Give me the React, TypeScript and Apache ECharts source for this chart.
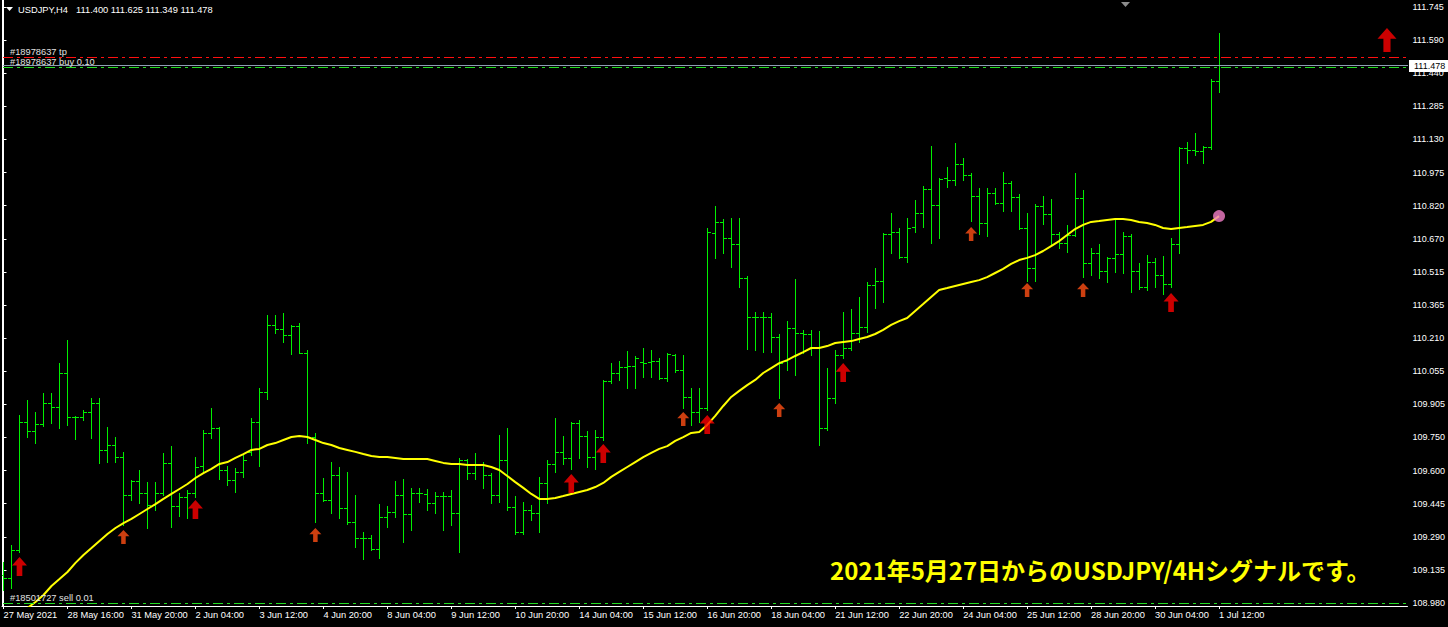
import React, { useEffect, useRef } from 'react';
import * as echarts from 'echarts';

const SYMBOL = 'USDJPY';
const PERIOD = 'H4';

const xTickLabels = ['27 May 2021', '28 May 16:00', '31 May 20:00', '2 Jun 04:00', '3 Jun 12:00', '4 Jun 20:00', '8 Jun 04:00', '9 Jun 12:00', '10 Jun 20:00', '14 Jun 04:00', '15 Jun 12:00', '16 Jun 20:00', '18 Jun 04:00', '21 Jun 12:00', '22 Jun 20:00', '24 Jun 04:00', '25 Jun 12:00', '28 Jun 20:00', '30 Jun 04:00', '1 Jul 12:00'];
const BARS_PER_X_LABEL = 8;

const yTickLabels = ['108.980', '109.135', '109.290', '109.445', '109.600', '109.750', '109.905', '110.055', '110.210', '110.365', '110.515', '110.670', '110.820', '110.975', '111.130', '111.285', '111.440', '111.590', '111.745'];

const opens = [109.110, 109.096, 109.226, 109.820, 109.778, 109.811, 109.908, 109.889, 110.047, 109.843,
  109.843, 109.866, 109.908, 109.690, 109.713, 109.657, 109.481, 109.546, 109.490, 109.435,
  109.490, 109.630, 109.430, 109.472, 109.490, 109.616, 109.769, 109.792, 109.597, 109.551,
  109.588, 109.681, 109.820, 109.959, 110.270, 110.251, 110.223, 110.265, 110.140, 109.750,
  109.490, 109.458, 109.574, 109.421, 109.356, 109.282, 109.282, 109.231, 109.379, 109.402,
  109.481, 109.393, 109.490, 109.486, 109.444, 109.476, 109.476, 109.398, 109.643, 109.583,
  109.625, 109.574, 109.481, 109.643, 109.425, 109.309, 109.412, 109.398, 109.537, 109.625,
  109.681, 109.653, 109.815, 109.755, 109.657, 109.750, 110.010, 110.047, 110.075, 110.080,
  110.098, 110.098, 110.103, 110.024, 110.131, 110.061, 109.936, 109.866, 109.885, 110.697,
  110.748, 110.673, 110.646, 110.488, 110.307, 110.307, 110.307, 110.214, 110.103, 110.256,
  110.233, 110.228, 110.168, 109.792, 109.931, 110.131, 110.163, 110.233, 110.260, 110.455,
  110.474, 110.692, 110.701, 110.585, 110.724, 110.789, 110.901, 110.826, 110.952, 110.943,
  111.017, 110.966, 110.868, 110.743, 110.882, 110.836, 110.929, 110.864, 110.720, 110.534,
  110.822, 110.785, 110.692, 110.650, 110.687, 110.859, 110.557, 110.604, 110.520, 110.581,
  110.599, 110.683, 110.520, 110.446, 110.562, 110.502, 110.460, 110.646, 111.091, 111.082,
  111.077, 111.096, 111.400];

const highs = [109.170, 109.249, 109.852, 109.922, 109.866, 109.954, 109.954, 110.093, 110.200, 109.848,
  109.875, 109.931, 109.931, 109.797, 109.750, 109.681, 109.551, 109.597, 109.541, 109.541,
  109.676, 109.708, 109.490, 109.504, 109.657, 109.783, 109.885, 109.797, 109.616, 109.606,
  109.671, 109.838, 109.977, 110.316, 110.316, 110.325, 110.270, 110.279, 110.154, 109.769,
  109.560, 109.634, 109.611, 109.588, 109.481, 109.309, 109.296, 109.439, 109.430, 109.546,
  109.555, 109.514, 109.514, 109.509, 109.495, 109.495, 109.504, 109.653, 109.648, 109.676,
  109.634, 109.583, 109.759, 109.792, 109.476, 109.449, 109.435, 109.565, 109.643, 109.838,
  109.755, 109.820, 109.829, 109.778, 109.783, 110.015, 110.093, 110.103, 110.149, 110.126,
  110.163, 110.154, 110.117, 110.140, 110.135, 110.131, 109.977, 109.977, 110.720, 110.822,
  110.761, 110.766, 110.766, 110.497, 110.330, 110.330, 110.325, 110.228, 110.288, 110.483,
  110.247, 110.247, 110.242, 110.070, 110.154, 110.330, 110.344, 110.400, 110.469, 110.534,
  110.697, 110.789, 110.720, 110.766, 110.850, 110.915, 111.100, 110.952, 111.003, 111.114,
  111.045, 110.975, 110.905, 110.905, 110.905, 110.980, 110.938, 110.878, 110.789, 110.831,
  110.868, 110.854, 110.701, 110.734, 110.975, 110.896, 110.627, 110.646, 110.585, 110.757,
  110.701, 110.692, 110.557, 110.594, 110.581, 110.590, 110.673, 111.096, 111.119, 111.161,
  111.100, 111.411, 111.625];

const lows = [109.040, 109.050, 109.217, 109.750, 109.722, 109.801, 109.815, 109.792, 109.806, 109.741,
  109.829, 109.746, 109.630, 109.634, 109.634, 109.342, 109.458, 109.444, 109.328, 109.412,
  109.481, 109.333, 109.384, 109.374, 109.472, 109.583, 109.746, 109.555, 109.528, 109.495,
  109.565, 109.667, 109.616, 109.926, 110.233, 110.191, 110.135, 110.140, 109.722, 109.356,
  109.453, 109.398, 109.374, 109.347, 109.240, 109.184, 109.226, 109.189, 109.333, 109.379,
  109.263, 109.319, 109.449, 109.412, 109.398, 109.319, 109.342, 109.217, 109.555, 109.555,
  109.514, 109.444, 109.449, 109.412, 109.300, 109.300, 109.365, 109.309, 109.444, 109.588,
  109.625, 109.602, 109.653, 109.611, 109.602, 109.736, 110.001, 110.015, 109.977, 109.977,
  110.029, 110.029, 110.019, 110.010, 110.052, 109.885, 109.806, 109.820, 109.875, 110.581,
  110.604, 110.539, 110.446, 110.158, 110.154, 110.144, 110.144, 109.931, 110.061, 110.038,
  110.140, 110.131, 109.713, 109.783, 109.908, 110.117, 110.154, 110.191, 110.237, 110.349,
  110.376, 110.604, 110.581, 110.562, 110.701, 110.724, 110.650, 110.673, 110.910, 110.919,
  110.943, 110.752, 110.692, 110.683, 110.831, 110.799, 110.799, 110.715, 110.474, 110.474,
  110.738, 110.641, 110.627, 110.608, 110.683, 110.492, 110.502, 110.488, 110.469, 110.516,
  110.511, 110.423, 110.437, 110.432, 110.446, 110.414, 110.446, 110.604, 111.021, 111.058,
  111.021, 111.088, 111.349];

const closes = [109.096, 109.226, 109.820, 109.778, 109.811, 109.908, 109.889, 110.047, 109.843, 109.843,
  109.866, 109.908, 109.690, 109.713, 109.657, 109.481, 109.546, 109.490, 109.435, 109.490,
  109.630, 109.430, 109.472, 109.490, 109.611, 109.769, 109.792, 109.597, 109.551, 109.588,
  109.643, 109.820, 109.959, 110.270, 110.251, 110.223, 110.265, 110.140, 109.750, 109.490,
  109.458, 109.574, 109.421, 109.356, 109.282, 109.282, 109.231, 109.379, 109.402, 109.481,
  109.393, 109.490, 109.490, 109.444, 109.476, 109.476, 109.398, 109.643, 109.583, 109.625,
  109.574, 109.481, 109.643, 109.425, 109.309, 109.412, 109.398, 109.537, 109.625, 109.681,
  109.653, 109.815, 109.755, 109.657, 109.750, 110.010, 110.047, 110.075, 110.080, 110.117,
  110.093, 110.103, 110.024, 110.135, 110.061, 109.936, 109.866, 109.885, 110.701, 110.748,
  110.673, 110.646, 110.488, 110.307, 110.307, 110.307, 110.214, 110.093, 110.256, 110.233,
  110.228, 110.168, 109.792, 109.931, 110.131, 110.163, 110.233, 110.260, 110.455, 110.474,
  110.692, 110.701, 110.585, 110.720, 110.789, 110.901, 110.826, 110.947, 110.943, 111.017,
  110.966, 110.868, 110.743, 110.882, 110.836, 110.929, 110.864, 110.720, 110.534, 110.822,
  110.785, 110.692, 110.650, 110.687, 110.859, 110.557, 110.604, 110.520, 110.581, 110.599,
  110.683, 110.520, 110.446, 110.562, 110.502, 110.460, 110.646, 111.091, 111.082, 111.077,
  111.096, 111.400, 111.478];

const movingAverage = [108.855, 108.887, 108.920, 108.957, 108.985, 109.017, 109.059, 109.091, 109.124, 109.166,
  109.203, 109.235, 109.268, 109.300, 109.328, 109.351, 109.370, 109.393, 109.416, 109.439,
  109.463, 109.486, 109.509, 109.532, 109.560, 109.583, 109.602, 109.625, 109.634, 109.653,
  109.671, 109.690, 109.695, 109.713, 109.722, 109.736, 109.750, 109.755, 109.750, 109.736,
  109.722, 109.713, 109.699, 109.690, 109.681, 109.671, 109.662, 109.657, 109.657, 109.653,
  109.648, 109.648, 109.648, 109.648, 109.639, 109.630, 109.625, 109.625, 109.620, 109.620,
  109.620, 109.611, 109.597, 109.569, 109.541, 109.514, 109.486, 109.463, 109.463, 109.467,
  109.476, 109.486, 109.495, 109.504, 109.518, 109.537, 109.565, 109.588, 109.611, 109.634,
  109.657, 109.676, 109.695, 109.708, 109.732, 109.750, 109.769, 109.773, 109.806, 109.848,
  109.894, 109.936, 109.964, 109.991, 110.015, 110.047, 110.070, 110.093, 110.107, 110.126,
  110.144, 110.163, 110.163, 110.172, 110.186, 110.191, 110.195, 110.205, 110.214, 110.228,
  110.247, 110.270, 110.288, 110.302, 110.335, 110.367, 110.400, 110.432, 110.441, 110.451,
  110.460, 110.469, 110.478, 110.492, 110.511, 110.530, 110.553, 110.571, 110.581, 110.594,
  110.613, 110.636, 110.659, 110.687, 110.715, 110.734, 110.748, 110.752, 110.757, 110.761,
  110.761, 110.757, 110.748, 110.743, 110.734, 110.720, 110.715, 110.720, 110.724, 110.729,
  110.734, 110.748, 110.775];

// Signal arrows: bar index and price at the arrow tip
const bigArrowIndex = [2, 24, 71, 75, 88, 105, 146];
const bigArrowPrice = [109.194, 109.458, 109.579, 109.718, 109.852, 110.093, 110.418];
const smallArrowIndex = [15, 39, 85, 97, 121, 128, 135];
const smallArrowPrice = [109.319, 109.328, 109.866, 109.908, 110.724, 110.465, 110.465];
const futureArrowIndex = [173];
const futureArrowPrice = [111.648];

// Trade levels
const levelNames = ['#18978637 tp', '#18978637 buy 0.10', '#18501727 sell 0.01'];
const levelPrices = [111.514, 111.467, 108.979];
const levelColors = ['#ff1010', '#22dd22', '#22dd22'];

const ANNOTATION = '2021年5月27日からのUSDJPY/4Hシグナルです。';

// Layout
const W = 1448;
const H = 627;
const GRID_LEFT = 2;
const GRID_RIGHT_EDGE = 1408;
const GRID_TOP = 0;
const GRID_BOTTOM_EDGE = 606;
const BAR_PX = 8;
const X_MIN = -0.1875;
const X_MAX = X_MIN + (GRID_RIGHT_EDGE - GRID_LEFT) / BAR_PX;
const Y_MAX = 111.7775;
const Y_MIN = 108.9661;

const FONT = '"Liberation Sans", Arial, sans-serif';
const BAR_COLOR = '#00f000';
const ARROW_PATH = 'path://M8 0L16 9L11 9L11 20L5 20L5 9L0 9Z';

const yFirst = parseFloat(yTickLabels[0]);
const yLast = parseFloat(yTickLabels[yTickLabels.length - 1]);
const yStep = (yLast - yFirst) / (yTickLabels.length - 1);
const yTickValues = yTickLabels.map((_, k) => yFirst + k * yStep);
const xTickValues = xTickLabels.map((_, k) => k * BARS_PER_X_LABEL);

const barData = opens.map((o, i) => [i, o, highs[i], lows[i], closes[i]]);
const maData = movingAverage.map((v, i) => [i, v]);
const lastIdx = closes.length - 1;

// dash-dot segments along a horizontal line
function dashDot(y: number, x0: number, x1: number, color: string, z: number) {
  const out: any[] = [];
  const pattern = [10, 4, 3, 4];
  let x = x0;
  let k = 0;
  while (x < x1) {
    const len = pattern[k % 4];
    if (k % 2 === 0) {
      out.push({ type: 'rect', shape: { x, y, width: Math.min(len, x1 - x), height: 1 }, style: { fill: color }, z, silent: true });
    }
    x += len;
    k++;
  }
  return out;
}

export default function App() {
  const ref = useRef<HTMLDivElement>(null);
  useEffect(() => {
    const chart = echarts.init(ref.current as HTMLDivElement, null, { renderer: 'svg' });
    const option: any = {
      animation: false,
      backgroundColor: '#000000',
      grid: { left: GRID_LEFT, right: W - GRID_RIGHT_EDGE, top: GRID_TOP, bottom: H - GRID_BOTTOM_EDGE, containLabel: false },
      xAxis: {
        type: 'value',
        min: X_MIN,
        max: X_MAX,
        position: 'bottom',
        axisLine: { show: true, lineStyle: { color: '#ffffff', width: 1 } },
        axisTick: { show: true, customValues: xTickValues, length: 3, lineStyle: { color: '#ffffff' } },
        axisLabel: {
          customValues: xTickValues,
          formatter: (v: number) => xTickLabels[Math.round(v / BARS_PER_X_LABEL)] ?? '',
          color: '#ffffff', fontSize: 9.3, fontFamily: FONT, align: 'left', margin: 4,
        },
        splitLine: { show: false },
      },
      yAxis: [
        {
          type: 'value', position: 'right', min: Y_MIN, max: Y_MAX,
          axisLine: { show: true, lineStyle: { color: '#ffffff', width: 1 } },
          axisTick: { show: true, customValues: yTickValues, length: 3, lineStyle: { color: '#ffffff' } },
          axisLabel: {
            customValues: yTickValues,
            formatter: (v: number) => yTickLabels[Math.round((v - yFirst) / yStep)] ?? '',
            color: '#ffffff', fontSize: 9, fontFamily: FONT, margin: 5,
          },
          splitLine: { show: false },
        },
        {
          type: 'value', position: 'left', min: Y_MIN, max: Y_MAX,
          axisLine: { show: true, lineStyle: { color: '#ffffff', width: 1 } },
          axisTick: { show: false }, axisLabel: { show: false }, splitLine: { show: false },
        },
      ],
      series: [
        {
          type: 'custom',
          name: 'bars',
          data: barData,
          encode: { x: 0, y: [1, 2, 3, 4] },
          clip: true,
          z: 2,
          silent: true,
          renderItem: (params: any, api: any) => {
            const i = api.value(0);
            const pH = api.coord([i, api.value(2)]);
            const pL = api.coord([i, api.value(3)]);
            const pO = api.coord([i, api.value(1)]);
            const pC = api.coord([i, api.value(4)]);
            const x = Math.floor(pH[0]);
            const yh = Math.round(pH[1]);
            const yl = Math.round(pL[1]);
            const yo = Math.round(pO[1]);
            const yc = Math.round(pC[1]);
            const st = { fill: BAR_COLOR };
            return {
              type: 'group',
              children: [
                { type: 'rect', shape: { x, y: yh, width: 1, height: Math.max(1, yl - yh + 1) }, style: st },
                { type: 'rect', shape: { x: x - 3, y: yo, width: 3, height: 1 }, style: st },
                { type: 'rect', shape: { x: x + 1, y: yc, width: 3, height: 1 }, style: st },
              ],
            };
          },
        },
        {
          type: 'line',
          name: 'MA',
          data: maData,
          showSymbol: false,
          clip: true,
          z: 3,
          silent: true,
          lineStyle: { color: '#ffff00', width: 2 },
        },
        {
          type: 'scatter',
          name: 'big arrows',
          data: bigArrowIndex.map((i, k) => [i, bigArrowPrice[k]]),
          symbol: ARROW_PATH,
          symbolSize: [15, 19],
          symbolOffset: [0, '50%'],
          symbolKeepAspect: false,
          itemStyle: { color: '#ff0000' },
          z: 5,
          silent: true,
        },
        {
          type: 'scatter',
          name: 'small arrows',
          data: smallArrowIndex.map((i, k) => [i, smallArrowPrice[k]]),
          symbol: ARROW_PATH,
          symbolSize: [12, 14],
          symbolOffset: [0, '50%'],
          symbolKeepAspect: false,
          itemStyle: { color: '#ff4f14' },
          z: 5,
          silent: true,
        },
        {
          type: 'scatter',
          name: 'next arrow',
          data: futureArrowIndex.map((i, k) => [i, futureArrowPrice[k]]),
          symbol: ARROW_PATH,
          symbolSize: [19, 24],
          symbolOffset: [0, '50%'],
          symbolKeepAspect: false,
          itemStyle: { color: '#ff0000' },
          z: 5,
          silent: true,
        },
        {
          type: 'scatter',
          name: 'MA end',
          data: [[lastIdx, movingAverage[lastIdx]]],
          symbol: 'circle',
          symbolSize: 12,
          itemStyle: { color: '#f47ec8' },
          z: 6,
          silent: true,
        },
      ],
    };
    chart.setOption(option);

    const yPx = (p: number) => chart.convertToPixel({ yAxisIndex: 0 }, p) as number;
    const graphics: any[] = [];
    // header
    graphics.push({ type: 'polygon', shape: { points: [[6, 7], [13, 7], [9.5, 11]] }, style: { fill: '#ffffff' }, z: 10 });
    graphics.push({ type: 'text', x: 18, y: 10, style: { text: `${SYMBOL},${PERIOD}`, fill: '#ffffff', fontSize: 9.3, fontFamily: FONT, verticalAlign: 'middle' }, z: 10 });
    graphics.push({
      type: 'text', x: 76, y: 10,
      style: { text: [opens[lastIdx], highs[lastIdx], lows[lastIdx], closes[lastIdx]].map((v) => v.toFixed(3)).join(' '), fill: '#ffffff', fontSize: 9.3, fontFamily: FONT, verticalAlign: 'middle' }, z: 10,
    });
    // shift marker
    graphics.push({ type: 'polygon', shape: { points: [[1121, 2], [1130, 2], [1125.5, 7]] }, style: { fill: '#8c8c8c' }, z: 10 });
    // current price line (solid)
    const cy = Math.round(yPx(closes[lastIdx]));
    graphics.push({ type: 'rect', shape: { x: GRID_LEFT + 1, y: cy, width: GRID_RIGHT_EDGE - GRID_LEFT - 1, height: 1 }, style: { fill: '#8fa0b4' }, z: 4, silent: true });
    // trade levels (dash-dot)
    levelNames.forEach((name, k) => {
      const ly = Math.round(yPx(levelPrices[k]));
      dashDot(ly, GRID_LEFT + 1, GRID_RIGHT_EDGE, levelColors[k], 4).forEach((g) => graphics.push(g));
      graphics.push({ type: 'text', x: 10, y: ly - 5.5, style: { text: name, fill: '#e0e0e0', fontSize: 9.3, fontFamily: FONT, verticalAlign: 'middle' }, z: 10 });
    });
    // current price box
    graphics.push({ type: 'rect', shape: { x: GRID_RIGHT_EDGE + 1, y: cy - 5, width: W - GRID_RIGHT_EDGE - 1, height: 12 }, style: { fill: '#ffffff' }, z: 20 });
    graphics.push({ type: 'text', x: GRID_RIGHT_EDGE + 6, y: cy + 1, style: { text: closes[lastIdx].toFixed(3), fill: '#000000', fontSize: 9, fontFamily: FONT, verticalAlign: 'middle' }, z: 21 });
    // annotation
    graphics.push({ type: 'text', x: 830, y: 569, style: { text: ANNOTATION, fill: '#ffff00', fontSize: 24, fontWeight: 'bold', fontFamily: '"Noto Sans CJK JP", sans-serif', verticalAlign: 'middle' }, z: 10 });
    chart.setOption({ graphic: graphics });

    return () => chart.dispose();
  }, []);
  return <div ref={ref} style={{ position: 'fixed', left: 0, top: 0, width: W, height: H, background: '#000' }} />;
}
